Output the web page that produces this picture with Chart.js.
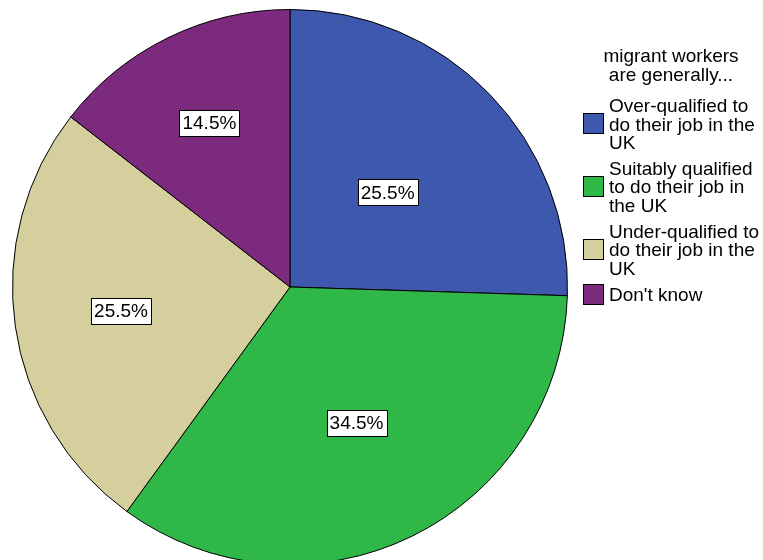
<!DOCTYPE html>
<html>
<head>
<meta charset="utf-8">
<script src="https://cdn.jsdelivr.net/npm/chart.js@4"></script>
<style>
  html, body { margin: 0; padding: 0; background: #fff; }
  #wrap { width: 763px; height: 560px; overflow: hidden; position: relative; }
  canvas { display: block; }
</style>
</head>
<body>
<div id="wrap"><canvas id="pie" width="763" height="600"></canvas></div>
<script>
// answers to "migrant workers are generally..."
const legendTitle = ['migrant workers', 'are generally...'];
const categories = [
  ['Over-qualified to', 'do their job in the', 'UK'],
  ['Suitably qualified', 'to do their job in', 'the UK'],
  ['Under-qualified to', 'do their job in the', 'UK'],
  ["Don't know"]
];
const percents = [25.5, 34.5, 25.5, 14.5];

const sliceColors = ['#3e58ad', '#2fb848', '#d4cf9c', '#7b2a7d'];
// how far out from the centre each value box sits (fraction of radius)
const labelDepth = [0.49, 0.545, 0.615, 0.66];

const FONT = '19px "Liberation Sans", Arial, sans-serif';

const valueBoxes = {
  id: 'valueBoxes',
  afterDatasetsDraw(chart) {
    const ctx = chart.ctx;
    const arcs = chart.getDatasetMeta(0).data;
    ctx.save();
    ctx.font = FONT;
    ctx.textAlign = 'center';
    ctx.textBaseline = 'middle';
    arcs.forEach((arc, i) => {
      const mid = (arc.startAngle + arc.endAngle) / 2;
      const r = arc.outerRadius * labelDepth[i];
      const x = arc.x + Math.cos(mid) * r;
      const y = arc.y + Math.sin(mid) * r;
      const txt = percents[i].toFixed(1) + '%';
      const w = Math.round(ctx.measureText(txt).width + 6);
      const h = 26;
      const bx = Math.round(x - w / 2) + 0.5;
      const by = Math.round(y - h / 2) + 0.5;
      ctx.fillStyle = '#fff';
      ctx.fillRect(bx, by, w, h);
      ctx.strokeStyle = '#000';
      ctx.lineWidth = 1;
      ctx.strokeRect(bx, by, w, h);
      ctx.fillStyle = '#000';
      ctx.fillText(txt, x, y + 1);
    });
    ctx.restore();
  }
};

const sideLegend = {
  id: 'sideLegend',
  afterDraw(chart) {
    const ctx = chart.ctx;
    const lineH = 18.3;
    ctx.save();
    ctx.font = FONT;
    ctx.fillStyle = '#000';
    ctx.textBaseline = 'middle';
    ctx.textAlign = 'center';
    legendTitle.forEach((t, i) => ctx.fillText(t, 671, 57 + i * lineH));

    ctx.textAlign = 'left';
    let y = 107;
    categories.forEach((lines, i) => {
      const midY = y + (lines.length - 1) * lineH / 2;
      const sy = Math.round(midY - 12) + 0.5;
      ctx.fillStyle = sliceColors[i];
      ctx.fillRect(583.5, sy, 20, 20);
      ctx.strokeStyle = '#000';
      ctx.lineWidth = 1;
      ctx.strokeRect(583.5, sy, 20, 20);
      ctx.fillStyle = '#000';
      lines.forEach((l, j) => ctx.fillText(l, 609, y + j * lineH));
      y += lines.length * lineH + 8;
    });
    ctx.restore();
  }
};

new Chart(document.getElementById('pie'), {
  type: 'pie',
  data: {
    labels: categories.map(c => c.join(' ')),
    datasets: [{
      data: percents,
      backgroundColor: sliceColors,
      borderColor: '#000',
      borderWidth: 1
    }]
  },
  options: {
    responsive: false,
    devicePixelRatio: 1,
    animation: false,
    layout: { padding: { left: 12, right: 195, top: 9, bottom: 35 } },
    plugins: {
      legend: { display: false },
      tooltip: { enabled: false }
    }
  },
  plugins: [valueBoxes, sideLegend]
});
</script>
</body>
</html>
